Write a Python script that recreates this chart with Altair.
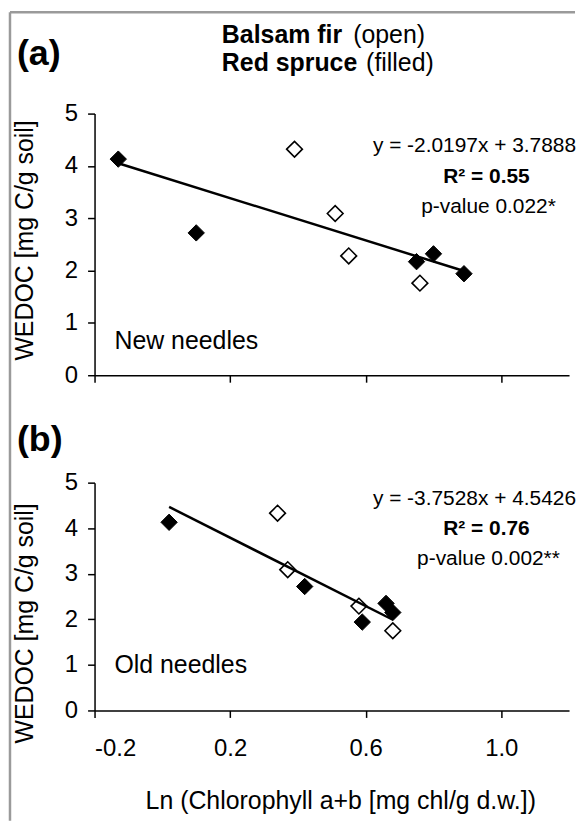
import altair as alt
import pandas as pd

# ---- data ----
X_TICKS = [-0.2, 0.2, 0.6, 1.0]
Y_TICKS = [0, 1, 2, 3, 4, 5]

# (a) New needles
new_filled_x = [-0.13, 0.10, 0.75, 0.80, 0.89]
new_filled_y = [4.13, 2.72, 2.17, 2.32, 1.94]
new_open_x = [0.39, 0.51, 0.55, 0.76]
new_open_y = [4.32, 3.09, 2.28, 1.76]
fit_new = (-2.0197, 3.7888)

# (b) Old needles
old_filled_x = [0.02, 0.42, 0.59, 0.66, 0.68]
old_filled_y = [4.13, 2.72, 1.94, 2.35, 2.15]
old_open_x = [0.34, 0.37, 0.58, 0.68]
old_open_y = [4.33, 3.09, 2.29, 1.75]
fit_old = (-3.7528, 4.5426)

FONT = "Liberation Sans"
W = 477
H_A = 263
H_B = 229

xscale = alt.Scale(domain=[-0.2, 1.2], nice=False, zero=False)
yscale = alt.Scale(domain=[0, 5], nice=False, zero=True)

one = alt.Data(values=[{}])


def txt(s, x, y, size=21, weight="normal", align="left"):
    return alt.Chart(one).mark_text(
        font=FONT, fontSize=size, fontWeight=weight, align=align,
        baseline="middle", color="black"
    ).encode(x=alt.value(x), y=alt.value(y), text=alt.value(s))


def panel(fx, fy, ox, oy, fit, eq, r2, pv, label, label_y, ytitle, title_y,
          bottom, letter, letter_y, eq_y):
    filled = pd.DataFrame({"x": fx, "y": fy})
    opn = pd.DataFrame({"x": ox, "y": oy})
    xs = fx + ox
    x0, x1 = min(xs), max(xs)
    line = pd.DataFrame({"x": [x0, x1],
                         "y": [fit[0] * x0 + fit[1], fit[0] * x1 + fit[1]]})

    if bottom:
        xaxis = alt.Axis(values=X_TICKS, grid=False, tickSize=7,
                         labelPadding=19,
                         labelExpr="datum.value < 0 ? '-' + format(-datum.value, '.1f') : format(datum.value, '.1f')",
                         title="Ln (Chlorophyll a+b [mg chl/g d.w.])",
                         titleX=247, titleY=91, titleBaseline="middle",
                         titleAlign="center")
    else:
        xaxis = alt.Axis(values=X_TICKS, grid=False, tickSize=7, labels=False,
                         title=None)
    yaxis = alt.Axis(values=Y_TICKS, grid=False, tickSize=7, labelPadding=10,
                     format="d", title=ytitle, titleX=-70, titleY=title_y,
                     titleAngle=270, titleBaseline="middle", titleAlign="center")

    pts_f = alt.Chart(filled).mark_point(
        shape="diamond", filled=True, fill="black", stroke="black",
        strokeWidth=1, size=270, opacity=1
    ).encode(x=alt.X("x:Q", scale=xscale, axis=xaxis),
             y=alt.Y("y:Q", scale=yscale, axis=yaxis))
    pts_o = alt.Chart(opn).mark_point(
        shape="diamond", filled=True, fill="white", stroke="black",
        strokeWidth=1.6, size=250, opacity=1
    ).encode(x=alt.X("x:Q", scale=xscale), y=alt.Y("y:Q", scale=yscale))
    reg = alt.Chart(line).mark_line(color="black", strokeWidth=2.5).encode(
        x=alt.X("x:Q", scale=xscale), y=alt.Y("y:Q", scale=yscale))

    return [pts_f, pts_o, reg,
            txt(eq, 484, eq_y, align="right"),
            txt(r2, 394, eq_y + 31, weight="bold", align="center"),
            txt(pv, 396, eq_y + 61, align="center"),
            txt(label, 20, label_y, size=25),
            txt(letter, -78, letter_y, size=36, weight="bold")]


la = panel(new_filled_x, new_filled_y, new_open_x, new_open_y, fit_new,
           "y = -2.0197x + 3.7888", "R\u00b2 = 0.55", "p-value 0.022*",
           "New needles", 229, "WEDOC [mg C/g soil]", 127, False, "(a)", -60, 33)
# header and frame
la += [
    txt("Balsam fir", 128, -79, size=25, weight="bold"),
    txt("(open)", 260, -79, size=25),
    txt("Red spruce", 128, -51, size=25, weight="bold"),
    txt("(filled)", 273, -51, size=25),
    alt.Chart(one).mark_rule(color="#9a9a9a", strokeWidth=2.5).encode(
        x=alt.value(-85), x2=alt.value(483), y=alt.value(-102)),
    alt.Chart(one).mark_rule(color="#9a9a9a", strokeWidth=2.5).encode(
        x=alt.value(-85), y=alt.value(-102), y2=alt.value(711)),
]
chart_a = alt.layer(*la).properties(width=W, height=H_A)

lb = panel(old_filled_x, old_filled_y, old_open_x, old_open_y, fit_old,
           "y = -3.7528x + 4.5426", "R\u00b2 = 0.76", "p-value 0.002**",
           "Old needles", 183, "WEDOC [mg C/g  soil]", 141, True, "(b)", -43, 16)
chart_b = alt.layer(*lb).properties(width=W, height=H_B)

chart = alt.vconcat(chart_a, chart_b, spacing=108, bounds="flush").configure(
    padding=0, background="white"
).configure_view(stroke=None).configure_axis(
    domainColor="black", domainWidth=1.5, tickColor="black", tickWidth=1.5,
    labelFont=FONT, labelFontSize=24, labelColor="black",
    titleFont=FONT, titleFontSize=25, titleFontWeight="normal", titleColor="black"
)

chart.save("out.html", embed_options={"renderer": "svg", "actions": False})
